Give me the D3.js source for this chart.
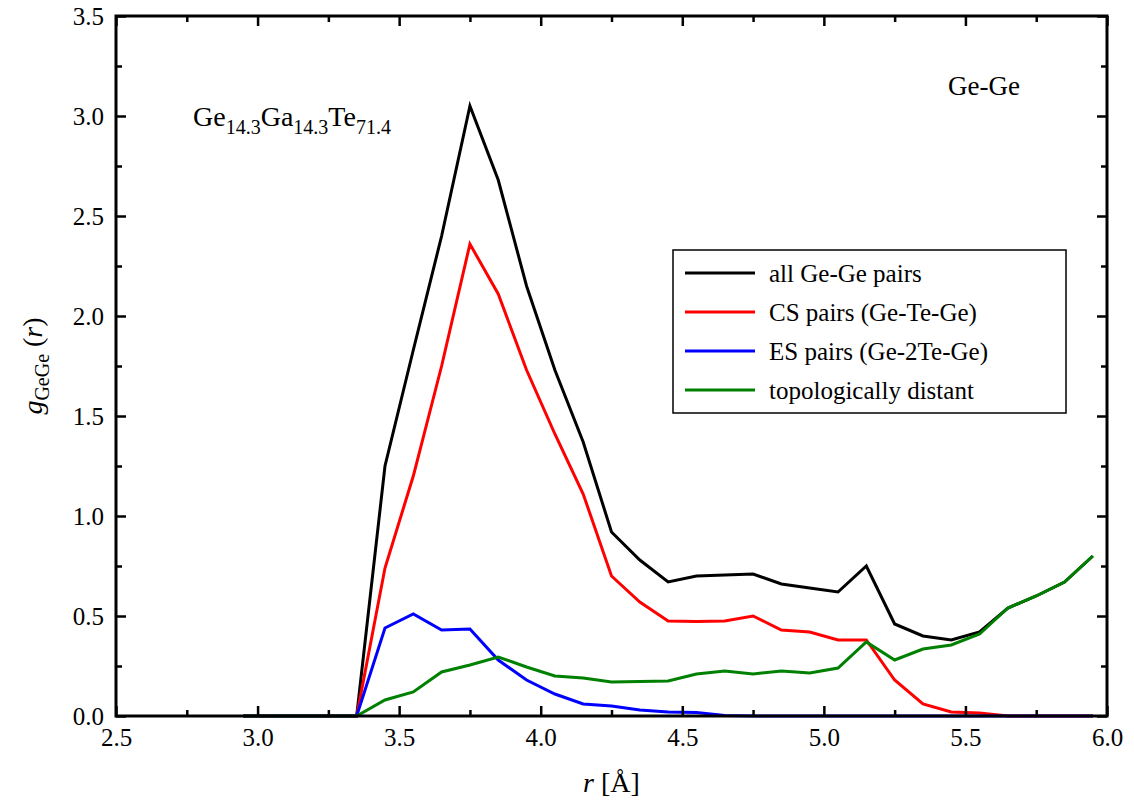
<!DOCTYPE html>
<html><head><meta charset="utf-8">
<script src="https://cdn.jsdelivr.net/npm/d3@7"></script>
<style>body{margin:0;background:#fff}</style>
</head><body><div id="chart"></div>
<script>
// r values (Å)
const rAll = d3.range(31).map(i => +(2.95 + i * 0.1).toFixed(2));
const allPairs = [0,0,0,0,0,1.25,1.83,2.4,3.05,2.68,2.15,1.73,1.37,0.92,0.78,0.67,0.70,0.705,0.71,0.66,0.64,0.62,0.75,0.46,0.40,0.38,0.42,0.54,0.60,0.67,0.80];
const csPairs = [0,0,0,0,0,0.74,1.2,1.75,2.36,2.11,1.73,1.41,1.11,0.70,0.57,0.475,0.473,0.475,0.50,0.43,0.42,0.38,0.38,0.18,0.06,0.02,0.015,0,0,0,0];
const esPairs = [0,0,0,0,0,0.44,0.51,0.43,0.435,0.28,0.18,0.11,0.06,0.05,0.03,0.02,0.018,0.003,0,0,0,0,0,0,0,0,0,0,0,0,0];
const distant = [0,0,0,0,0,0.08,0.12,0.22,0.255,0.295,0.245,0.20,0.19,0.17,0.172,0.175,0.21,0.225,0.21,0.225,0.215,0.24,0.37,0.28,0.335,0.355,0.41,0.54,0.60,0.67,0.80];
const seriesNames = ["all Ge-Ge pairs","CS pairs (Ge-Te-Ge)","ES pairs (Ge-2Te-Ge)","topologically distant"];
const seriesColors = ["#000000","#ff0000","#0000ff","#008000"];
const seriesData = [allPairs, csPairs, esPairs, distant];
const xTicks = [2.5,3.0,3.5,4.0,4.5,5.0,5.5,6.0];
const yTicks = [0,0.5,1.0,1.5,2.0,2.5,3.0,3.5];

const W = 1134, H = 804;
const SERIF = "'Times New Roman', 'Liberation Serif', serif";
const m = {left:116, right:1107, top:16, bottom:716};
const svg = d3.select("#chart").append("svg").attr("width", W).attr("height", H);
const x = d3.scaleLinear().domain([2.5,6.0]).range([m.left, m.right]);
const y = d3.scaleLinear().domain([0,3.5]).range([m.bottom, m.top]);

const line = d3.line().x(d => x(d[0])).y(d => y(d[1]));
seriesData.forEach((s, i) => {
  svg.append("path").datum(rAll.map((r, j) => [r, s[j]]))
    .attr("d", line).attr("fill","none").attr("stroke", seriesColors[i]).attr("stroke-width", 3);
});

const minorX = d3.range(2.75, 6.0, 0.5), minorY = d3.range(0.25, 3.5, 0.5);
function axis(gen, tr, major, minor, fmt) {
  const g = svg.append("g").attr("transform", tr);
  g.call(gen.tickValues(major).tickSize(-10).tickPadding(12).tickFormat(fmt));
  g.append("g").call(gen.tickValues(minor).tickSize(-6).tickFormat(""));
  g.selectAll(".domain").remove();
  g.selectAll("line").attr("stroke","#000").attr("stroke-width",2.5);
  g.selectAll("text").attr("fill","#000").style("font-family", SERIF).style("font-size","25px");
  return g;
}
const f = d3.format(".1f");
axis(d3.axisBottom(x), `translate(0,${m.bottom})`, xTicks, minorX, f);
axis(d3.axisTop(x), `translate(0,${m.top})`, xTicks, minorX, "");
axis(d3.axisLeft(y), `translate(${m.left},0)`, yTicks, minorY, f);
axis(d3.axisRight(y), `translate(${m.right},0)`, yTicks, minorY, "");
svg.append("rect").attr("x",m.left).attr("y",m.top).attr("width",m.right-m.left).attr("height",m.bottom-m.top)
  .attr("fill","none").attr("stroke","#000").attr("stroke-width",3);

// axis titles
const xt = svg.append("text").attr("x",(m.left+m.right)/2).attr("y",792).attr("text-anchor","middle").attr("font-size",28);
xt.append("tspan").attr("font-style","italic").text("r");
xt.append("tspan").text(" [Å]");
const yt = svg.append("text").attr("transform","translate(42,366) rotate(-90)").attr("text-anchor","middle").attr("font-size",28);
yt.append("tspan").attr("font-style","italic").text("g");
yt.append("tspan").attr("font-size",20).attr("dy",7).text("GeGe");
yt.append("tspan").attr("dy",-7).text(" (");
yt.append("tspan").attr("font-style","italic").text("r");
yt.append("tspan").text(")");

// annotations
svg.append("text").attr("x",948).attr("y",95).attr("font-size",27).text("Ge-Ge");
const comp = svg.append("text").attr("x",193).attr("y",126).attr("font-size",28);
[["Ge","14.3"],["Ga","14.3"],["Te","71.4"]].forEach(([e,n], k) => {
  comp.append("tspan").attr("dy", k ? -8 : 0).text(e);
  comp.append("tspan").attr("font-size",20).attr("dy",8).text(n);
});

// legend
const lg = svg.append("g").attr("transform","translate(673,250)");
lg.append("rect").attr("width",393).attr("height",163).attr("fill","#fff").attr("stroke","#000").attr("stroke-width",1.5);
seriesNames.forEach((n, i) => {
  const yy = 23 + i * 39;
  lg.append("line").attr("x1",12).attr("x2",82).attr("y1",yy).attr("y2",yy).attr("stroke",seriesColors[i]).attr("stroke-width",3);
  lg.append("text").attr("x",96).attr("y",yy+9).attr("font-size",25).text(n);
});

svg.selectAll("text").style("font-family", SERIF);
</script></body></html>
